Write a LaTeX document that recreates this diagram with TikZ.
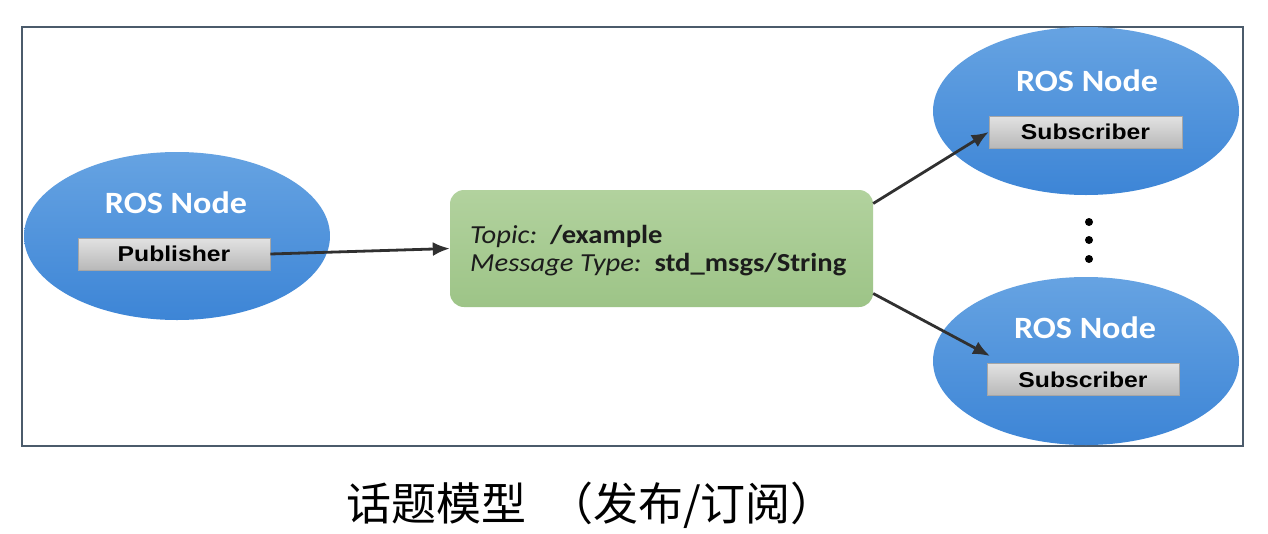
\documentclass[tikz,border=0pt]{standalone}
\usepackage{fontspec}
\setmainfont{Carlito}[FakeStretch=1.1]
\newfontfamily\arialfont{Liberation Sans}[FakeStretch=1.15]
\newfontfamily\cjk{Noto Sans CJK SC}
\usetikzlibrary{shapes.geometric,arrows.meta}
\definecolor{frameC}{HTML}{4B5B6B}
\definecolor{blueTop}{HTML}{66A3E2}
\definecolor{blueBot}{HTML}{3D85D6}
\definecolor{greenTop}{HTML}{B2D29E}
\definecolor{greenBot}{HTML}{9DC487}
\definecolor{grayTop}{HTML}{E2E2E2}
\definecolor{grayBot}{HTML}{B8B8B8}
\definecolor{arrC}{HTML}{303030}
\definecolor{txtC}{HTML}{1C1C1C}
\tikzset{
  rosnode/.style={ellipse, inner sep=0pt, minimum width=306pt, minimum height=168pt,
    top color=blueTop, bottom color=blueBot, draw=none},
  rostitle/.style={anchor=base, text=white, font=\fontsize{31}{36}\selectfont\bfseries},
  rolebox/.style={rectangle, inner sep=0pt, minimum height=32pt,
    top color=grayTop, bottom color=grayBot, draw=gray!70, line width=0.6pt,
    font=\arialfont\fontsize{21.5}{26}\selectfont\bfseries, text=black},
  topicbox/.style={rectangle, rounded corners=14pt, inner sep=0pt, minimum width=423pt,
    minimum height=117pt, top color=greenTop, bottom color=greenBot, draw=none},
  topictext/.style={anchor=base west, inner sep=0pt, text=txtC, font=\fontsize{26}{30}\selectfont},
  arr/.style={draw=arrC, line width=2.8pt, -{Latex[length=17pt,width=14pt]}},
  dotc/.style={circle, fill=black, inner sep=0pt, minimum size=8pt},
}
\begin{document}
\begin{tikzpicture}[x=1pt,y=-1pt]
\useasboundingbox[fill=white] (0,0) rectangle (1268,533);
% frame
\draw[frameC, line width=2.6pt] (22,27) rectangle (1243,446);
% publisher
\node[rosnode] (pub) at (177,236) {};
\node[rostitle] (pubt) at (176,213) {ROS Node};
\node[rolebox, minimum width=192pt] (pubbox) at (174,254) {Publisher};
% topic
\node[topicbox] (topic) at (661.5,248.5) {};
\node[topictext] (l1) at (470,243) {\itshape Topic:\ \ \upshape\bfseries /example};
\node[topictext] (l2) at (470,271) {\itshape Message Type:\ \ \upshape\bfseries std\_msgs/String};
% subscribers
\node[rosnode] (s1) at (1086,111) {};
\node[rostitle] (s1t) at (1087,91) {ROS Node};
\node[rolebox, minimum width=193pt] (s1box) at (1085.5,132) {Subscriber};
\node[rosnode] (s2) at (1086,361) {};
\node[rostitle] (s2t) at (1085,338) {ROS Node};
\node[rolebox, minimum width=192pt] (s2box) at (1083,379.5) {Subscriber};
\coordinate (t2) at (990,356);
% dots
\node[dotc] (d1) at (1089,222) {};
\node[dotc] (d2) at (1089,240) {};
\node[dotc] (d3) at (1089,259) {};
% arrows
\draw[arr] (pubbox.east) -- (topic.west);
\draw[arr] (topic.12) -- (s1box.west);
\draw[arr] (topic.-12) -- (t2);
% caption
\node[inner sep=0pt, font=\cjk\fontsize{45}{50}\selectfont] (cap) at (591,505) {话题模型\hspace{22pt}（发布/订阅）};
\end{tikzpicture}
\end{document}
